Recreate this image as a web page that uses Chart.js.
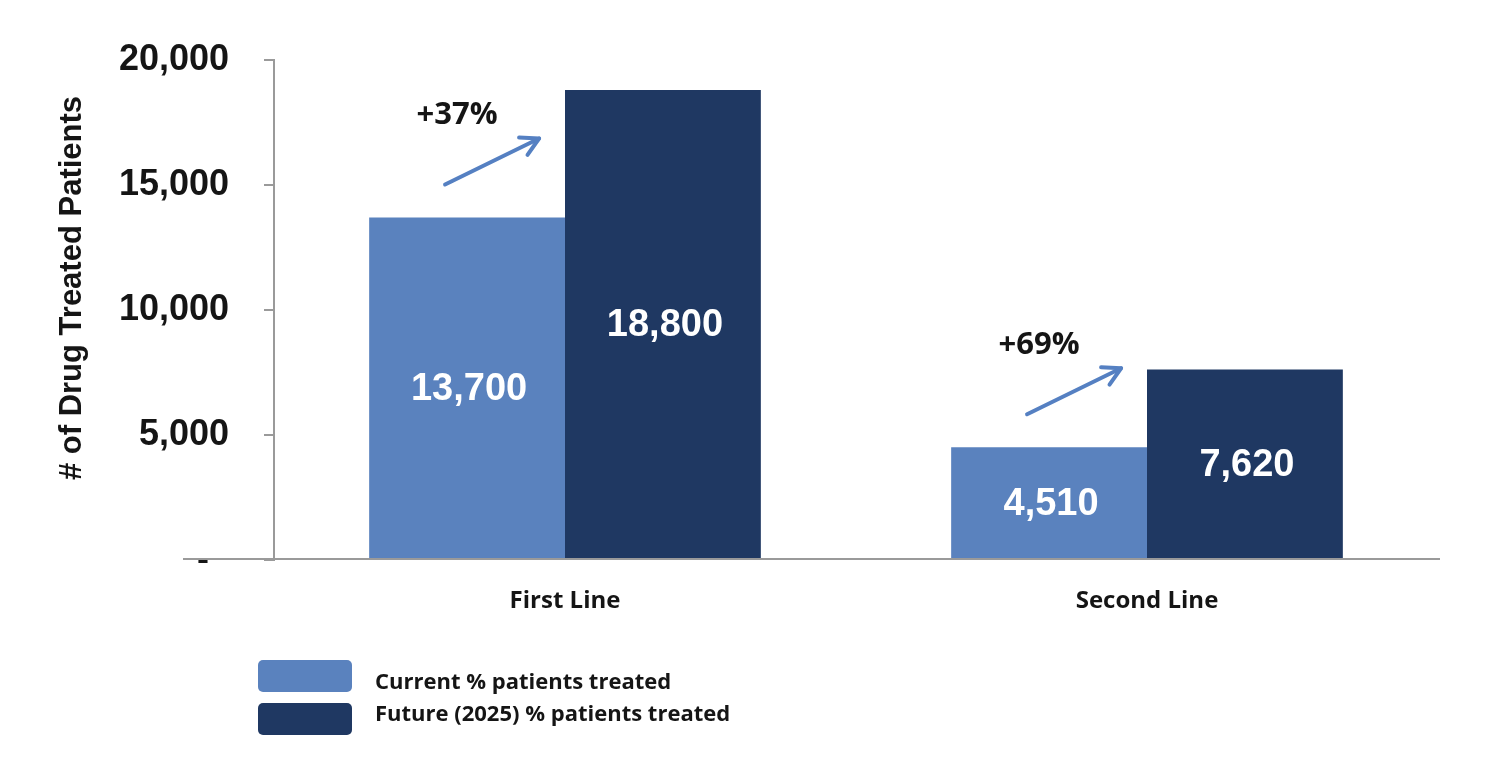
<!DOCTYPE html>
<html>
<head>
<meta charset="utf-8">
<script src="https://cdn.jsdelivr.net/npm/chart.js@4.4.1/dist/chart.umd.min.js"></script>
<style>
  html, body { margin: 0; padding: 0; background: #ffffff; }
  #wrap { width: 1490px; height: 757px; }
</style>
</head>
<body>
<div id="wrap"><canvas id="c" width="1490" height="757"></canvas></div>
<script>
// ---- data ----
const categories = ['First Line', 'Second Line'];
const seriesNames = ['Current % patients treated', 'Future (2025) % patients treated'];
const currentValues = [13700, 4510];
const futureValues = [18800, 7620];
const changeLabels = ['+37%', '+69%'];
const yTickValues = [0, 5000, 10000, 15000, 20000];
const yAxisTitle = '# of Drug Treated Patients';

const LIGHT = '#5A82BE';
const DARK = '#1F3862';
const TEXT = '#151515';
const AXIS = '#9a9a9a';
const ARIAL = '"Liberation Sans", Arial, sans-serif';
const CALIBRI = '"Open Sans", sans-serif';

const extras = {
  id: 'extras',
  afterDatasetsDraw(chart) {
    const ctx = chart.ctx;
    const area = chart.chartArea;
    ctx.save();
    // extended x-axis baseline
    ctx.strokeStyle = AXIS;
    ctx.lineWidth = 2;
    ctx.beginPath();
    ctx.moveTo(183, area.bottom - 1);
    ctx.lineTo(area.right + 2, area.bottom - 1);
    ctx.stroke();

    // value labels centered in bars
    ctx.fillStyle = '#ffffff';
    ctx.font = 'bold 38px ' + ARIAL;
    ctx.textAlign = 'center';
    ctx.textBaseline = 'middle';
    chart.data.datasets.forEach((ds, di) => {
      const meta = chart.getDatasetMeta(di);
      meta.data.forEach((bar, i) => {
        const v = ds.data[i];
        const cy = (bar.y + bar.base) / 2;
        ctx.fillText(v.toLocaleString('en-US'), bar.x + 2, cy + 1);
      });
    });

    // growth arrows and labels
    const curMeta = chart.getDatasetMeta(0);
    curMeta.data.forEach((bar, i) => {
      const sx = bar.x - 22, sy = bar.y - 33;
      const ex = bar.x + 72, ey = bar.y - 79;
      ctx.strokeStyle = '#5580C2';
      ctx.lineWidth = 4;
      ctx.lineCap = 'round';
      ctx.lineJoin = 'round';
      ctx.beginPath();
      ctx.moveTo(sx, sy);
      ctx.lineTo(ex, ey);
      ctx.stroke();
      const ang = Math.atan2(ey - sy, ex - sx);
      const hl = 20, ha = 0.5;
      ctx.beginPath();
      ctx.moveTo(ex - hl * Math.cos(ang - ha), ey - hl * Math.sin(ang - ha));
      ctx.lineTo(ex, ey);
      ctx.lineTo(ex - hl * Math.cos(ang + ha), ey - hl * Math.sin(ang + ha));
      ctx.stroke();
      ctx.fillStyle = TEXT;
      ctx.font = 'bold 31px ' + CALIBRI;
      ctx.textAlign = 'center';
      ctx.textBaseline = 'middle';
      ctx.fillText(changeLabels[i], bar.x - 10, bar.y - 102);
    });

    // y-axis title
    ctx.save();
    ctx.translate(72, 288);
    ctx.rotate(-Math.PI / 2);
    ctx.fillStyle = TEXT;
    ctx.font = 'bold 31px ' + ARIAL;
    ctx.textAlign = 'center';
    ctx.textBaseline = 'middle';
    ctx.fillText(yAxisTitle, 0, 0);
    ctx.restore();

    // legend
    const textY = [683, 715];
    chart.data.datasets.forEach((ds, di) => {
      const top = 660 + di * 43;
      ctx.fillStyle = ds.backgroundColor;
      ctx.beginPath();
      if (ctx.roundRect) { ctx.roundRect(258, top, 94, 32, 5); } else { ctx.rect(258, top, 94, 32); }
      ctx.fill();
      ctx.fillStyle = TEXT;
      ctx.font = 'bold 22px ' + CALIBRI;
      ctx.textAlign = 'left';
      ctx.textBaseline = 'middle';
      ctx.fillText(ds.label, 375, textY[di]);
    });
    ctx.restore();
  }
};

new Chart(document.getElementById('c'), {
  type: 'bar',
  data: {
    labels: categories,
    datasets: [
      { label: seriesNames[0], data: currentValues, backgroundColor: LIGHT, borderWidth: 0 },
      { label: seriesNames[1], data: futureValues, backgroundColor: DARK, borderWidth: 0 }
    ]
  },
  plugins: [extras],
  options: {
    responsive: false,
    animation: false,
    events: [],
    layout: { padding: { left: 40, top: 60, right: 52, bottom: 0 } },
    datasets: { bar: { categoryPercentage: 0.673, barPercentage: 1.0 } },
    plugins: { legend: { display: false }, tooltip: { enabled: false } },
    scales: {
      x: {
        grid: { display: false },
        border: { display: false },
        ticks: { color: TEXT, font: { family: CALIBRI, size: 24, weight: 'bold' }, padding: 19 },
        afterFit(s) { s.height = 197; }
      },
      y: {
        min: 0, max: 20000,
        afterBuildTicks(s) { s.ticks = yTickValues.map(v => ({ value: v })); },
        grid: { drawOnChartArea: false, tickLength: 10, color: AXIS, lineWidth: 2 },
        border: { color: AXIS, width: 2 },
        ticks: {
          color: TEXT,
          font: { family: ARIAL, size: 36, weight: 'bold' },
          padding: 35,
          callback: v => v === 0 ? '-  ' : v.toLocaleString('en-US')
        },
        afterFit(s) { s.width = 274 - 40; }
      }
    }
  }
});
</script>
</body>
</html>
